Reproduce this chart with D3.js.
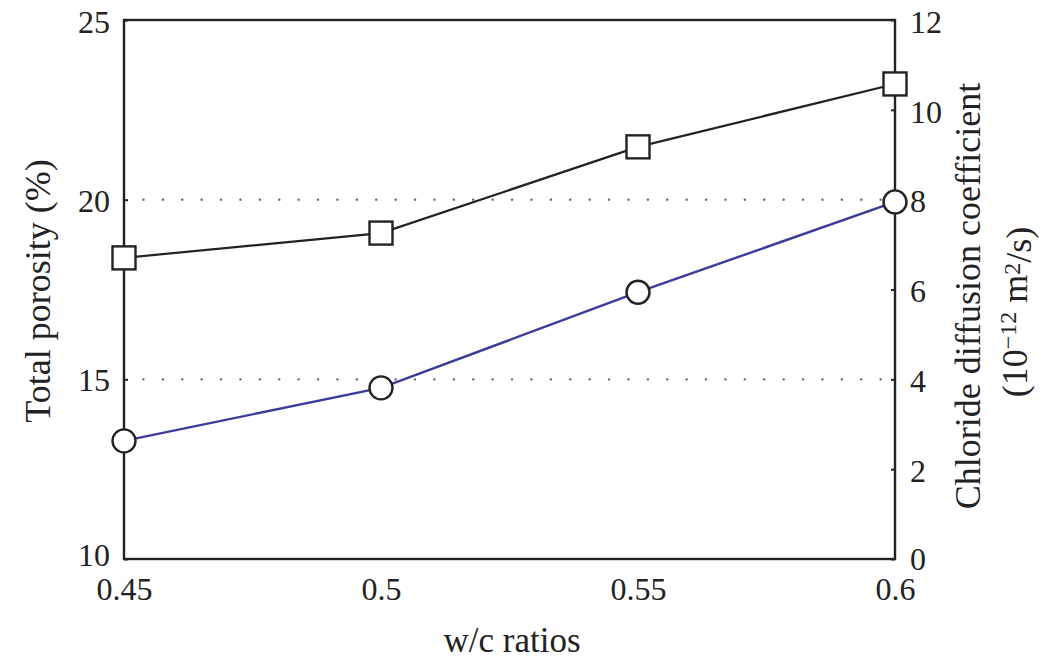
<!DOCTYPE html>
<html>
<head>
<meta charset="utf-8">
<script src="https://cdn.jsdelivr.net/npm/d3@7"></script>
<style>
  body { margin: 0; background: #fff; }
  svg text { font-family: "Liberation Serif", "Times New Roman", "DejaVu Serif", serif; fill: #222; }
</style>
</head>
<body>
<div id="chart"></div>
<script>
// w/c ratios on the x axis
const wcRatios = [0.45, 0.5, 0.55, 0.6];
// Total porosity (%), left axis, square markers
const porosity = [18.38, 19.07, 21.47, 23.22];
// Chloride diffusion coefficient (1e-12 m2/s), right axis, circle markers
const chloride = [2.63, 3.81, 5.94, 7.95];

const leftTicks = [10, 15, 20, 25];
const rightTicks = [0, 2, 4, 6, 8, 10, 12];
const xTicks = [0.45, 0.5, 0.55, 0.6];
const gridValues = [15, 20];

const serif = '"Liberation Serif", "Times New Roman", "DejaVu Serif", serif';

const width = 1049, height = 661;
const margin = { top: 20, right: 154, bottom: 102, left: 124 };
const w = width - margin.left - margin.right;
const h = height - margin.top - margin.bottom;

const svg = d3.select("#chart").append("svg")
  .attr("width", width).attr("height", height)
  .attr("font-family", serif);
const g = svg.append("g")
  .attr("transform", `translate(${margin.left},${margin.top})`);

const x = d3.scaleLinear().domain([0.45, 0.6]).range([0, w]);
const yL = d3.scaleLinear().domain([10, 25]).range([h, 0]);
const yR = d3.scaleLinear().domain([0, 12]).range([h, 0]);

// dotted grid lines
g.selectAll(".grid").data(gridValues).join("line")
  .attr("class", "grid")
  .attr("x1", 0).attr("x2", w)
  .attr("y1", (d) => yL(d)).attr("y2", (d) => yL(d))
  .attr("stroke", "#666")
  .attr("stroke-width", 2.4)
  .attr("stroke-linecap", "round")
  .attr("stroke-dasharray", "0.1 19.3");

// frame
g.append("rect")
  .attr("width", w).attr("height", h)
  .attr("fill", "none").attr("stroke", "#222").attr("stroke-width", 2.4);

// axes
const styleAxis = (sel) => {
  sel.attr("font-family", serif);
  sel.select(".domain").remove();
  sel.selectAll(".tick line").attr("stroke", "#222").attr("stroke-width", 2);
  sel.selectAll(".tick text").style("font-size", "32px").style("font-family", serif);
};

g.append("g")
  .call(d3.axisLeft(yL).tickValues(leftTicks).tickSize(-4).tickPadding(14).tickFormat(d3.format("d")))
  .call(styleAxis)
  .selectAll(".tick text").attr("dy", (d) => d === 10 ? "0.2em" : d === 25 ? "0.4em" : "0.36em");

g.append("g")
  .attr("transform", `translate(${w},0)`)
  .call(d3.axisRight(yR).tickValues(rightTicks).tickSize(-4).tickPadding(15).tickFormat(d3.format("d")))
  .call(styleAxis)
  .selectAll(".tick text").attr("dy", (d) => d === 0 ? "0.34em" : d === 12 ? "0.4em" : "0.38em");

g.append("g")
  .attr("transform", `translate(0,${h})`)
  .call(d3.axisBottom(x).tickValues(xTicks).tickSize(0).tickPadding(18).tickFormat((d) => String(+d.toFixed(2))))
  .call(styleAxis);

// series lines
const line = (yScale) => d3.line().x((d, i) => x(wcRatios[i])).y((d) => yScale(d));

g.append("path").datum(porosity)
  .attr("d", line(yL))
  .attr("fill", "none").attr("stroke", "#222").attr("stroke-width", 2.2);

g.append("path").datum(chloride)
  .attr("d", line(yR))
  .attr("fill", "none").attr("stroke", "#3b3b9c").attr("stroke-width", 2.4);

// markers
const sq = 23;
g.selectAll(".sq").data(porosity).join("rect")
  .attr("class", "sq")
  .attr("x", (d, i) => x(wcRatios[i]) - sq / 2)
  .attr("y", (d) => yL(d) - sq / 2)
  .attr("width", sq).attr("height", sq)
  .attr("fill", "#fff").attr("stroke", "#222").attr("stroke-width", 2.4);

g.selectAll(".circ").data(chloride).join("circle")
  .attr("class", "circ")
  .attr("cx", (d, i) => x(wcRatios[i]))
  .attr("cy", (d) => yR(d))
  .attr("r", 11.5)
  .attr("fill", "#fff").attr("stroke", "#222").attr("stroke-width", 2.4);

// axis titles
svg.append("text")
  .attr("x", 512).attr("y", 652)
  .attr("text-anchor", "middle").style("font-size", "35px").style("font-family", serif)
  .text("w/c ratios");

svg.append("text")
  .attr("transform", "translate(50,291) rotate(-90)")
  .attr("text-anchor", "middle").style("font-size", "36px").style("font-family", serif)
  .text("Total porosity (%)");

svg.append("text")
  .attr("transform", "translate(980,296) rotate(-90)")
  .attr("text-anchor", "middle").style("font-size", "36px").style("font-family", serif)
  .text("Chloride diffusion coefficient");

const unit = svg.append("text")
  .attr("transform", "translate(1027,312) rotate(-90)")
  .attr("text-anchor", "middle").style("font-size", "36px").style("font-family", serif);
unit.append("tspan").text("(10");
unit.append("tspan").attr("dy", "-0.45em").style("font-size", "24px").text("\u221212");
unit.append("tspan").attr("dy", "0.3em").text(" m");
unit.append("tspan").attr("dy", "-0.3em").style("font-size", "24px").text("2");
unit.append("tspan").attr("dy", "0.3em").text("/s)");
</script>
</body>
</html>
